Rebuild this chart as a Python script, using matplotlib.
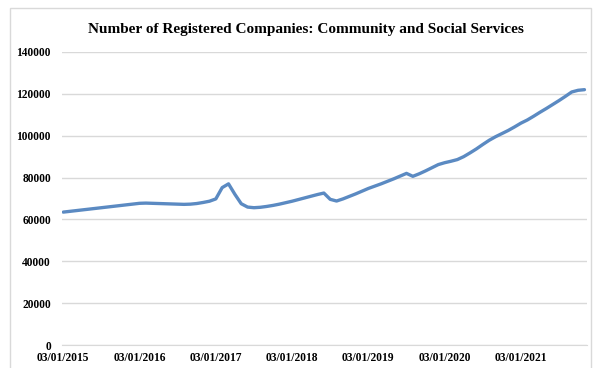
import matplotlib
matplotlib.use("Agg")
import matplotlib.pyplot as plt
from matplotlib.patches import Rectangle

title = "Number of Registered Companies: Community and Social Services"
x_labels = ["03/01/2015", "03/01/2016", "03/01/2017", "03/01/2018",
            "03/01/2019", "03/01/2020", "03/01/2021"]
y_ticks = [0, 20000, 40000, 60000, 80000, 100000, 120000, 140000]

# monthly values, March 2015 to January 2022
companies = [
    63500, 63850, 64200, 64550, 64900, 65250, 65600, 65950, 66300, 66650,
    67000, 67350, 67700, 67800, 67700, 67600, 67500, 67400, 67300, 67200,
    67300, 67600, 68100, 68700, 69800, 75200, 77000, 72000, 67500, 65900,
    65600, 65800, 66200, 66700, 67300, 68000, 68700, 69500, 70300, 71100,
    71900, 72600, 69600, 68800, 69800, 71000, 72200, 73500, 74800, 75900,
    77000, 78200, 79400, 80700, 82000, 80600, 81800, 83200, 84700, 86200,
    87100, 87800, 88600, 90000, 91800, 93700, 95800, 97800, 99500, 101000,
    102500, 104200, 106000, 107500, 109300, 111200, 113000, 114900, 116800, 118800,
    120900, 121700, 122000,
]

fig = plt.figure(figsize=(5.98, 3.68), dpi=100)
fig.patch.set_facecolor("white")
fig.patches.append(Rectangle((10 / 598, -0.01), 581 / 598, 1 - 8 / 368 + 0.01,
                             transform=fig.transFigure, fill=False,
                             edgecolor="#d9d9d9", linewidth=1.0))

ax = fig.add_axes([62 / 598, 1 - 345 / 368, 525 / 598, (345 - 52) / 368])
idx = list(range(len(companies)))
ax.plot(idx, companies, color="#5b8ac2", linewidth=2.4,
        solid_capstyle="round", solid_joinstyle="round")

ax.set_ylim(0, 140000)
ax.set_xlim(-0.2, 82.4)
ax.set_yticks(y_ticks)
ax.set_yticklabels([str(v) for v in y_ticks], fontfamily="Liberation Serif",
                   fontweight="bold", fontsize=8.3)
ax.set_xticks([i * 12 for i in range(len(x_labels))])
ax.set_xticklabels(x_labels, fontfamily="Liberation Serif",
                   fontweight="bold", fontsize=8.3)
ax.tick_params(axis="y", length=0, pad=8)
ax.tick_params(axis="x", length=0, pad=5)
ax.grid(axis="y", color="#d9d9d9", linewidth=1.0)
ax.set_axisbelow(True)
for s in ["top", "right", "left"]:
    ax.spines[s].set_visible(False)
ax.spines["bottom"].set_color("#d9d9d9")

fig.text(306 / 598, 1 - 30 / 368, title, ha="center", va="center",
         fontfamily="Liberation Serif", fontweight="bold", fontsize=11)

fig.savefig("out.png", dpi=100)
